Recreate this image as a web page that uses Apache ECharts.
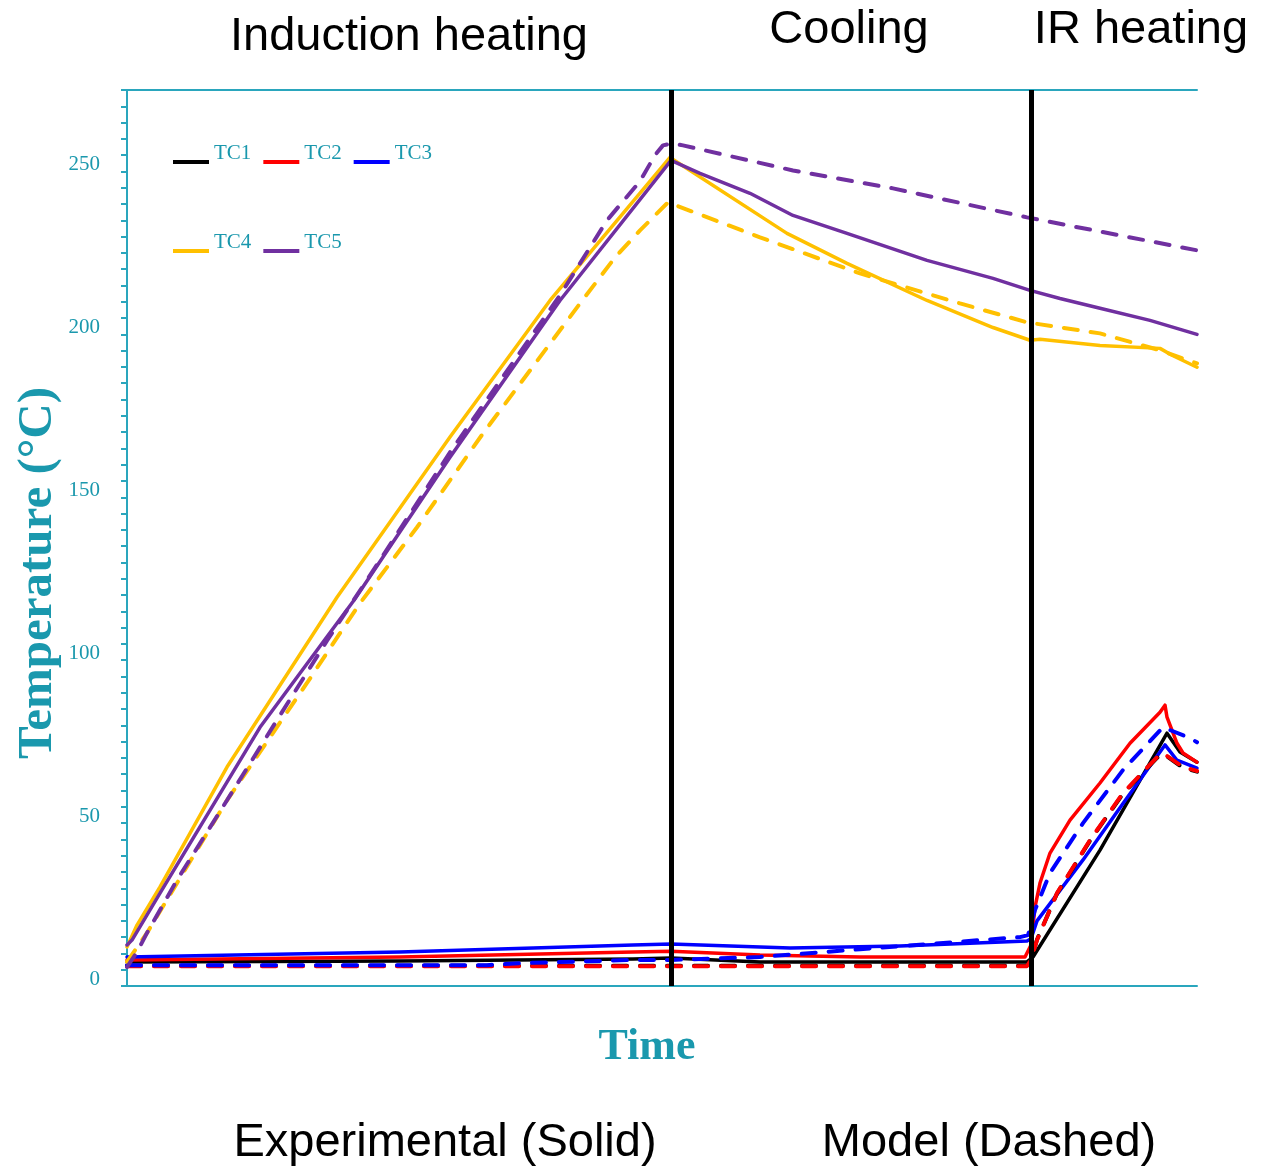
<!DOCTYPE html>
<html lang="en">
<head>
    <meta charset="UTF-8">
    <script src="https://cdn.jsdelivr.net/npm/echarts@6/dist/echarts.min.js"></script>
    <title>Temperature - induction heating, cooling, IR heating</title>
    <style>
        body { margin: 0; background: #ffffff; }
        #chart { width: 1265px; height: 1166px; }
    </style>
</head>
<body>
    <div id="chart"></div>
    <script>
        // [time, temperature °C] - time is arbitrary (no axis labels in the original)
        var tc1Exp = [[0,7.4],[273,7.7],[506,8.3],[544,8.6],[633,7.4],[733,7.4],[900,7.4],[906,8.9],[973,41.7],[1040,77.6],[1053,71.8],[1070,68.7]];
        var tc2Exp = [[0,8],[273,8.9],[506,10.4],[544,10.7],[633,9.5],[733,8.9],[898,8.9],[904,12.6],[908,24.2],[913,31.6],[923,40.8],[943,50.9],[973,62.3],[1003,74.5],[1033,84],[1038,86.2],[1040,82.5],[1050,74.5],[1056,71.5],[1070,68.7]];
        var tc3Exp = [[0,8.9],[273,10.4],[506,12.6],[544,12.9],[663,11.7],[773,12.3],[900,13.8],[904,14.5],[910,20],[956,38.7],[996,56],[1038,74],[1050,69.3],[1070,66.9]];
        var tc4Exp = [[0,12],[10,18.7],[33,30.4],[100,67.2],[210,119.3],[323,168.5],[423,210.4],[543,254.3],[660,231],[720,221.8],[800,210.4],[866,202.1],[903,198.2],[913,198.5],[973,196.6],[1033,195.7],[1045,193.6],[1070,189.9]];
        var tc5Exp = [[0,12.6],[5,14.1],[33,28.5],[133,79.4],[227,118.4],[323,162.3],[433,210.4],[544,253.4],[573,249.4],[623,243.3],[666,236.5],[720,231],[800,222.7],[866,217.2],[903,213.5],[933,211],[973,208],[1023,204.3],[1070,200]];

        var tc1Mod = [[0,6.2],[300,6.2],[600,6.2],[900,6.2],[904,8.2],[910,14.2],[930,28.4],[963,44.6],[996,59],[1030,70],[1036,71.3],[1056,67],[1070,65.8]];
        var tc2Mod = [[0,6.1],[300,6.1],[600,6.1],[900,6.1],[904,8],[910,14.1],[930,28.5],[963,44.8],[996,59.2],[1030,70.2],[1036,71.5],[1056,67.2],[1070,66]];
        var tc3Mod = [[0,6.4],[360,6.4],[393,7],[506,8],[544,8],[633,8.9],[733,11.3],[893,15],[901,15.6],[908,23.3],[923,34.7],[956,50],[996,66.3],[1036,79.4],[1063,76.1],[1070,74.8]];
        var tc4Mod = [[0,7.4],[20,16.3],[100,57],[180,93],[213,108.3],[233,117.5],[290,140.8],[356,169.6],[453,209.5],[488,223.6],[513,231.9],[541,240.5],[633,229.8],[733,218.7],[833,209.5],[900,203.7],[973,200.3],[1033,195.1],[1070,191.1]];
        var tc5Mod = [[0,5.8],[10,10.4],[20,16.3],[50,32.5],[100,57],[150,81.6],[200,106],[253,130.7],[323,163.8],[433,212],[480,235],[513,247],[528,255],[536,258],[545,258.6],[556,258],[666,250.3],[766,244.8],[900,235.9],[1070,225.8]];

        var stageEnds = [544, 904];   // end of induction heating, end of cooling
        var names = ['TC1', 'TC2', 'TC3', 'TC4', 'TC5'];
        var colors = ['#000000', '#ff0000', '#0000ff', '#ffc000', '#7030a0'];

        var teal = '#1a98ad';
        var axisTeal = '#2aa6bd';
        var serif = '"Liberation Serif", "DejaVu Serif", serif';
        var sans = '"Liberation Sans", Arial, sans-serif';

        var chart = echarts.init(document.getElementById('chart'));

        var expData = [tc1Exp, tc2Exp, tc3Exp, tc4Exp, tc5Exp];
        var modData = [tc1Mod, tc2Mod, tc3Mod, tc4Mod, tc5Mod];

        var series = [];
        expData.forEach(function (d, i) {
            series.push({
                name: names[i], type: 'line', data: d, showSymbol: false, symbol: 'none',
                color: colors[i],
                lineStyle: { width: 3.5, color: colors[i], cap: 'round', join: 'round' },
                z: 2
            });
        });
        modData.forEach(function (d, i) {
            series.push({
                name: names[i] + ' model', type: 'line', data: d, showSymbol: false, symbol: 'none',
                color: colors[i],
                lineStyle: { width: 4, color: colors[i], type: [14, 13], cap: 'round' },
                z: 3
            });
        });
        // stage boundaries
        series.push({
            name: 'stages', type: 'line', data: [], z: 5,
            markLine: {
                silent: true, symbol: 'none', label: { show: false },
                lineStyle: { color: '#000000', width: 5, type: 'solid' },
                data: stageEnds.map(function (x) { return { xAxis: x }; })
            }
        });

        // the legend stroke sits low in its box so the label reads above it
        var legendCommon = {
            left: 173, itemWidth: 36, itemHeight: 22, itemGap: 12,
            icon: 'path://M0,0L36,0L36,0.01L0,0.01ZM0,18L36,18L36,22L0,22Z',
            padding: 0, selectedMode: false,
            itemStyle: { borderWidth: 0 },
            textStyle: { fontFamily: serif, fontSize: 21, color: teal }
        };

        var option = {
            backgroundColor: '#ffffff',
            animation: false,
            grid: { left: 127, right: 68, top: 90, bottom: 180 },
            legend: [
                Object.assign({ top: 142, data: ['TC1', 'TC2', 'TC3'] }, legendCommon),
                Object.assign({ top: 231, data: ['TC4', 'TC5'] }, legendCommon)
            ],
            xAxis: [{
                type: 'value', min: 0, max: 1070,
                axisLine: { show: true, onZero: false, lineStyle: { color: axisTeal, width: 2 } },
                axisTick: { show: false }, axisLabel: { show: false }, splitLine: { show: false }
            }, {
                type: 'value', min: 0, max: 1070, position: 'top',
                axisLine: { show: true, onZero: false, lineStyle: { color: axisTeal, width: 2 } },
                axisTick: { show: false }, axisLabel: { show: false }, splitLine: { show: false }
            }],
            yAxis: {
                type: 'value', min: 0, max: 275, interval: 50,
                axisLine: { show: true, lineStyle: { color: axisTeal, width: 2 } },
                axisTick: { show: true, length: 6, lineStyle: { color: axisTeal, width: 2 } },
                minorTick: { show: true, splitNumber: 10, length: 6, lineStyle: { color: axisTeal, width: 2 } },
                axisLabel: {
                    showMaxLabel: false, margin: 27, color: teal, fontFamily: serif, fontSize: 21,
                    verticalAlign: 'bottom', lineHeight: 13
                },
                splitLine: { show: false }
            },
            graphic: [
                { type: 'text', x: 409, y: 37, style: { text: 'Induction heating', font: '47px ' + sans, fill: '#000', align: 'center', verticalAlign: 'middle' } },
                { type: 'text', x: 849, y: 30, style: { text: 'Cooling', font: '47px ' + sans, fill: '#000', align: 'center', verticalAlign: 'middle' } },
                { type: 'text', x: 1141, y: 30, style: { text: 'IR heating', font: '47px ' + sans, fill: '#000', align: 'center', verticalAlign: 'middle' } },
                { type: 'text', x: 445, y: 1143, style: { text: 'Experimental (Solid)', font: '47px ' + sans, fill: '#000', align: 'center', verticalAlign: 'middle' } },
                { type: 'text', x: 989, y: 1143, style: { text: 'Model (Dashed)', font: '47px ' + sans, fill: '#000', align: 'center', verticalAlign: 'middle' } },
                { type: 'text', x: 647, y: 1048, style: { text: 'Time', font: 'bold 44px ' + serif, fill: teal, align: 'center', verticalAlign: 'middle' } },
                { type: 'text', x: 38, y: 573, rotation: Math.PI / 2, style: { text: 'Temperature (°C)', font: 'bold 49px ' + serif, fill: teal, align: 'center', verticalAlign: 'middle' } }
            ],
            series: series
        };

        chart.setOption(option);
    </script>
</body>
</html>
